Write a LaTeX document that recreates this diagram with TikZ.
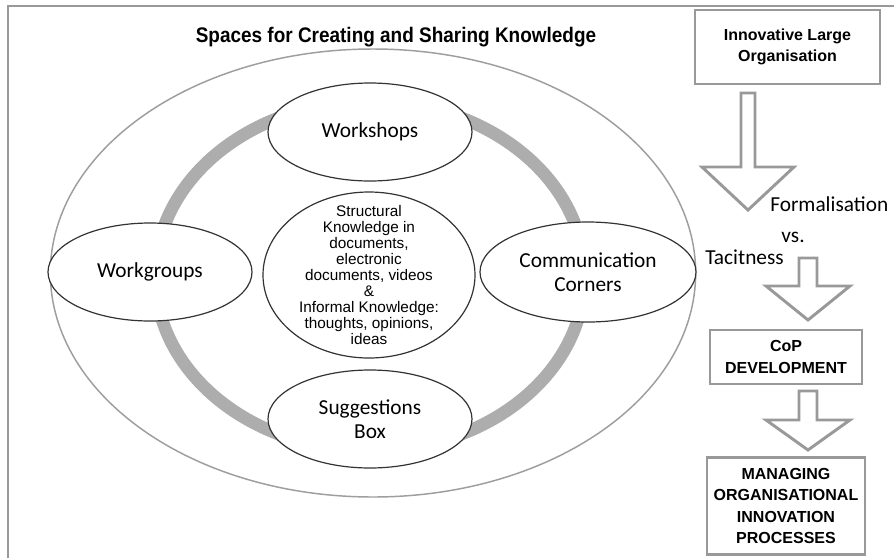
\documentclass[tikz,border=0pt]{standalone}
\usepackage{fontspec}
\setmainfont{Liberation Sans}
\newfontfamily\calibri{Carlito}
\newfontfamily\headfont[FakeStretch=0.9]{Liberation Sans Bold}
\usepackage{tikz}
\usetikzlibrary{positioning}
\usetikzlibrary{shapes.geometric}

\newcommand{\hollowdown}[6]{\draw[flow] (#1-#5,#2) -- (#1+#5,#2) -- (#1+#5,#3) -- (#1+#6,#3) -- (#1,#4) -- (#1-#6,#3) -- (#1-#5,#3) -- cycle;}

\begin{document}
\begin{tikzpicture}[x=0.75pt,y=-0.75pt,
    space/.style={ellipse, draw=black!80, line width=0.9pt, fill=white, inner sep=0pt, minimum width=153pt, minimum height=73.5pt, align=center, font=\calibri\fontsize{16}{18}\selectfont},
    hub/.style={ellipse, draw=black!80, line width=0.9pt, fill=white, minimum width=159pt, minimum height=124.5pt},
    hubtext/.style={align=center, inner sep=0pt, font=\fontsize{11.5}{12}\selectfont},
    stage/.style={draw=black!40, line width=2.2pt, fill=white, align=center, inner sep=0pt, font=\bfseries\fontsize{12}{16}\selectfont},
    flow/.style={draw=black!40, line width=2.2pt, line join=miter},
    aspect/.style={inner sep=0pt, font=\calibri\fontsize{16}{18}\selectfont}]
    \useasboundingbox (0,0) rectangle (894,558);
    \fill[white] (0,0) rectangle (894,558);
    \draw[black!40, line width=2pt] (8,558) -- (8,6) -- (894,6);
    \node[font=\headfont\fontsize{15.8}{18}\selectfont] (title) at (396,37) {Spaces for Creating and Sharing Knowledge};
    \draw[black!38, line width=1.1pt] (373,273) ellipse [x radius=242pt, y radius=168pt];
    \draw[black!32, line width=9.5pt] (370,276) ellipse [x radius=161pt, y radius=131pt];
    \node[space] (workshops) at (370,132) {Workshops};
    \node[space] (workgroups) at (150,272) {Workgroups};
    \node[space, minimum width=162pt, minimum height=75pt] (corners) at (588,272) {Communication\\Corners};
    \node[space] (suggestions) at (370,419) {Suggestions\\Box};
    \node[hub] (hub) at (369,275) {};
    \node[hubtext] (knowledge) at (hub) {Structural\\Knowledge in\\documents,\\electronic\\documents, videos\\\&\\Informal Knowledge:\\thoughts, opinions,\\ideas};
    \node[stage, minimum width=138.75pt, minimum height=55.5pt] (org) at (787.5,47) {Innovative Large\\Organisation};
    \node[stage, minimum width=114pt, minimum height=40.5pt] (cop) at (786,357) {CoP\\DEVELOPMENT};
    \node[stage, minimum width=118.5pt, minimum height=72.75pt] (managing) at (786,506) {MANAGING\\ORGANISATIONAL\\INNOVATION\\PROCESSES};
    \hollowdown{748}{93}{167}{210}{7}{46}
    \hollowdown{808}{258}{286}{320}{9}{42}
    \hollowdown{808}{391}{420}{450}{9}{42}
    \node[aspect, anchor=west] (formal) at (770,204) {Formalisation};
    \node[aspect] (versus) at (793,237) {vs.};
    \node[aspect, anchor=west] (tacit) at (705,257) {Tacitness};
\end{tikzpicture}
\end{document}
